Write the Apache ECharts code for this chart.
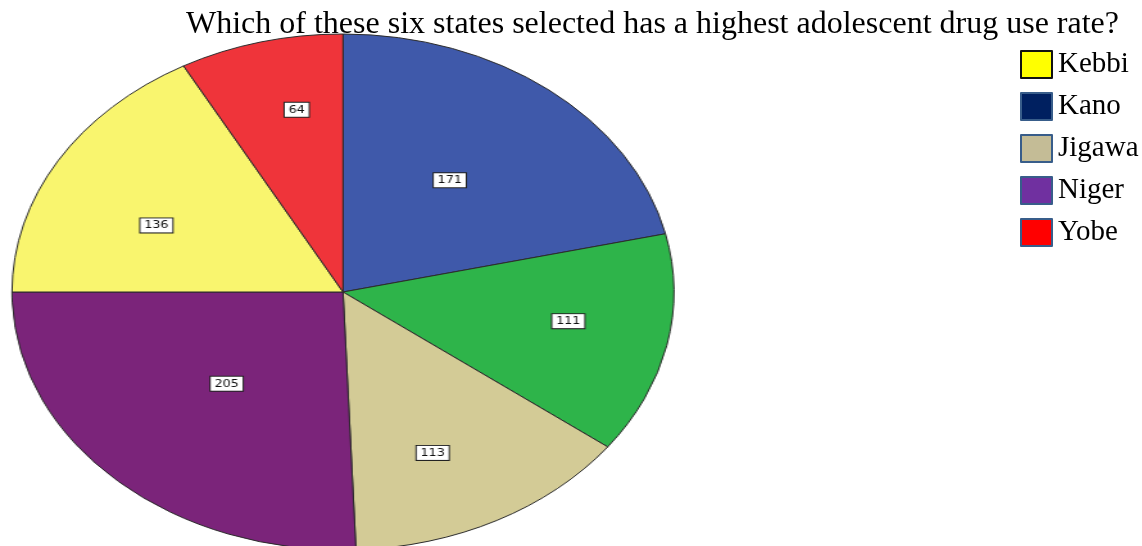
<!DOCTYPE html>
<html>
<head>
<meta charset="utf-8">
<script src="https://cdn.jsdelivr.net/npm/echarts@6/dist/echarts.min.js"></script>
<style>
html,body{margin:0;padding:0;width:1142px;height:546px;overflow:hidden;background:#fff;}
#pie{position:absolute;left:0;top:0;height:546px;transform-origin:0 0;}
#ov{position:absolute;left:0;top:0;width:1142px;height:546px;pointer-events:none;}
</style>
</head>
<body>
<div id="pie"></div>
<div id="ov"></div>
<script>
// ---- data ----
const titleText = 'Which of these six states selected has a highest adolescent drug use rate?';
const sliceNames = ['Kano', 'Other', 'Jigawa', 'Niger', 'Kebbi', 'Yobe'];
const sliceValues = [171, 111, 113, 205, 136, 64];
const legendNames = ['Kebbi', 'Kano', 'Jigawa', 'Niger', 'Yobe'];

// ---- styles / layout ----
const sliceColors = ['#3F59AA', '#2EB44A', '#D3CB96', '#7B247A', '#F9F56E', '#EF343A'];
const legendColors = {Kebbi:'#FFFF00', Kano:'#002060', Jigawa:'#C4BC96', Niger:'#7030A0', Yobe:'#FF0000'};
const legendBorders = {Kebbi:'#111111', Kano:'#385D8A', Jigawa:'#385D8A', Niger:'#385D8A', Yobe:'#385D8A'};
const labelRadiusFrac = [0.54, 0.69, 0.68, 0.50, 0.62, 0.72];
const labelAngleShiftDeg = [-1.8, -2.5, 4.2, 0.8, -6.0, 3.2];

const rx = 331, ry = 258, cxPx = 343, cyPx = 292;
const s = rx / ry;
const pieDiv = document.getElementById('pie');
pieDiv.style.width = (1142 / s) + 'px';
pieDiv.style.transform = 'scaleX(' + s + ')';
const cx = cxPx / s, cy = cyPx;

const total = sliceValues.reduce((a, b) => a + b, 0);
const midAngles = [];
{ let acc = 0; sliceValues.forEach(v => { midAngles.push((acc + v / 2) / total * 2 * Math.PI); acc += v; }); }

const pieChart = echarts.init(pieDiv, null, {renderer: 'canvas'});
pieChart.setOption({
  animation: false,
  series: [{
    type: 'pie',
    center: [cx, cy],
    radius: [0, ry],
    startAngle: 90,
    clockwise: true,
    avoidLabelOverlap: false,
    data: sliceNames.map((n, i) => ({name: n, value: sliceValues[i], itemStyle: {color: sliceColors[i]}})),
    itemStyle: {borderColor: '#2a2a2a', borderWidth: 1},
    label: {
      show: true,
      position: 'inside',
      formatter: '{c}',
      fontFamily: '"Liberation Sans Narrow", "DejaVu Sans Condensed", sans-serif',
      fontSize: 11,
      color: '#111',
      backgroundColor: '#fff',
      borderColor: '#222',
      borderWidth: 1,
      padding: [2, 3, 1, 3],
      align: 'center',
      verticalAlign: 'middle'
    },
    labelLine: {show: false},
    labelLayout: function (p) {
      const i = p.dataIndex;
      const a = midAngles[i] + labelAngleShiftDeg[i] * Math.PI / 180, f = labelRadiusFrac[i];
      return {x: cx + Math.sin(a) * ry * f, y: cy - Math.cos(a) * ry * f, align: 'center', verticalAlign: 'middle'};
    },
    emphasis: {disabled: true}
  }]
});

const ov = echarts.init(document.getElementById('ov'));
ov.setOption({
  animation: false,
  title: {
    text: titleText,
    left: 181, top: 4,
    textStyle: {fontFamily: '"Liberation Serif", "Times New Roman", serif', fontWeight: 'normal', fontSize: 32, color: '#000'}
  },
  legend: {
    orient: 'vertical',
    left: 1015, top: 45,
    itemWidth: 31, itemHeight: 27, itemGap: 13,
    selectedMode: false,
    data: legendNames.map(n => ({name: n, icon: 'rect', itemStyle: {color: legendColors[n], borderColor: legendBorders[n], borderWidth: 2}})),
    textStyle: {fontFamily: '"Liberation Serif", "Times New Roman", serif', fontSize: 29, lineHeight: 27, color: '#000', padding: [0, 0, 0, 1]}
  },
  series: [{
    type: 'pie',
    center: [-500, -500],
    radius: [0, 1],
    silent: true,
    label: {show: false},
    data: legendNames.map(n => ({name: n, value: 1, itemStyle: {color: legendColors[n]}}))
  }]
});
</script>
</body>
</html>
